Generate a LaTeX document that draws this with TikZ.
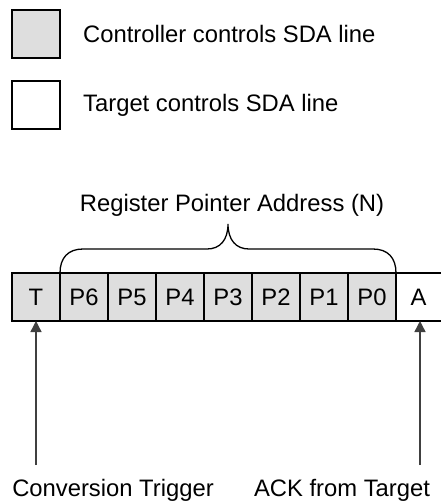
\documentclass[tikz,border=0pt]{standalone}
\usepackage{fontspec}
\setmainfont{Liberation Sans}
\usetikzlibrary{arrows.meta}
\definecolor{cellgray}{HTML}{DEDEDE}
\definecolor{arrowgray}{HTML}{404040}
\tikzset{
  every node/.style={font=\fontsize{23.8}{28}\selectfont},
  cellbox/.style={draw=black, line width=1.3pt, minimum width=48pt, minimum height=48pt, inner sep=0pt, outer sep=0pt, fill=cellgray},
  openbox/.style={minimum width=45pt, minimum height=48pt, inner sep=0pt, outer sep=0pt},
  legendbox/.style={draw=black, line width=1.3pt, minimum width=48pt, minimum height=48pt, inner sep=0pt, outer sep=0pt},
  txt/.style={inner sep=0pt, anchor=west},
  pointer/.style={draw=arrowgray, line width=1.4pt, -{Triangle[length=11pt,width=11pt]}},
  bracestyle/.style={draw=black, line width=1.3pt},
  edgeline/.style={draw=black, line width=1.3pt}
}
\begin{document}
\begin{tikzpicture}[x=1pt,y=-1pt]
\useasboundingbox (0,0) rectangle (441,504);
% legend
\node[legendbox, fill=cellgray] (lg1) at (36,34) {};
\node[txt] (lt1) at (83,34) {Controller controls SDA line};
\node[legendbox, fill=white] (lg2) at (36,105) {};
\node[txt] (lt2) at (83,105) {Target controls SDA line};
% register row
\node[cellbox] (T) at (36,297) {T};
\node[cellbox] (P6) at (84,297) {P6};
\node[cellbox] (P5) at (132,297) {P5};
\node[cellbox] (P4) at (180,297) {P4};
\node[cellbox] (P3) at (228,297) {P3};
\node[cellbox] (P2) at (276,297) {P2};
\node[cellbox] (P1) at (324,297) {P1};
\node[cellbox] (P0) at (372,297) {P0};
\node[openbox] (A) at (418.5,297) {A};
\draw[edgeline] (P0.north east) -- (A.north east);
\draw[edgeline] (P0.south east) -- (A.south east);
% brace
\draw[bracestyle] (P6.north west) .. controls (60,258) and (68,249) .. (83,249)
  -- (207,249) .. controls (220,249) and (228,240) .. (228,224)
  .. controls (228,240) and (236,249) .. (249,249)
  -- (373,249) .. controls (388,249) and (396,258) .. (P0.north east);
\node (reg) at (232,205) {Register Pointer Address (N)};
% arrows
\coordinate (tb) at (36,465);
\coordinate (ab) at (420,465);
\draw[pointer] (tb) -- (T.south);
\draw[pointer] (ab) -- (A.south -| ab);
\node (ct) at (113,490) {Conversion Trigger};
\node (ack) at (342,490) {ACK from Target};
\end{tikzpicture}
\end{document}
